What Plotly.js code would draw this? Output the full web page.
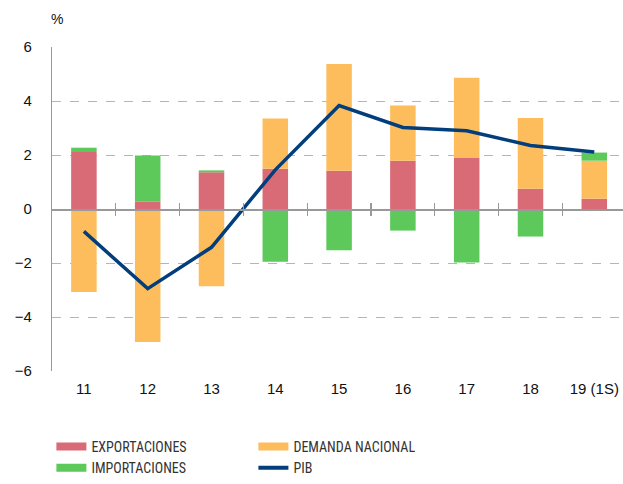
<!DOCTYPE html>
<html>
<head>
<meta charset="utf-8">
<script src="https://cdn.plot.ly/plotly-3.0.1.min.js"></script>
<style>html,body{margin:0;padding:0;background:#fff;}#chart{width:623px;height:484px;}</style>
</head>
<body>
<div id="chart"></div>
<script>
const categories = ['11', '12', '13', '14', '15', '16', '17', '18', '19 (1S)'];
const exportaciones = [2.11, 0.28, 1.36, 1.49, 1.42, 1.79, 1.89, 0.75, 0.38];
const demandaNacional = [-3.07, -4.93, -2.86, 1.86, 3.95, 2.04, 2.97, 2.62, 1.41];
const importaciones = [0.16, 1.70, 0.07, -1.95, -1.53, -0.80, -1.98, -1.02, 0.30];
const pib = [-0.83, -2.95, -1.42, 1.45, 3.83, 3.02, 2.90, 2.35, 2.11];
const boundaries = [0.5, 1.5, 2.5, 3.5, 4.5, 5.5, 6.5, 7.5];
const yTicks = [-6, -4, -2, 0, 2, 4, 6];

const cRed = '#D96B77', cOrange = '#FDBD5D', cGreen = '#5CC95A', cBlue = '#033E7C';
const xIdx = categories.map((c, i) => i);

const traces = [
  {type: 'bar', x: xIdx, y: exportaciones, name: 'EXPORTACIONES', marker: {color: cRed}, width: 0.4, showlegend: false, hoverinfo: 'y'},
  {type: 'bar', x: xIdx, y: demandaNacional, name: 'DEMANDA NACIONAL', marker: {color: cOrange}, width: 0.4, showlegend: false, hoverinfo: 'y'},
  {type: 'bar', x: xIdx, y: importaciones, name: 'IMPORTACIONES', marker: {color: cGreen}, width: 0.4, showlegend: false, hoverinfo: 'y'},
  {type: 'scatter', mode: 'lines', x: xIdx, y: pib, name: 'PIB', line: {color: cBlue, width: 3.5}, showlegend: false},
  // legend entries
  {type: 'scatter', mode: 'lines', x: [null], y: [null], name: 'EXPORTACIONES', line: {color: cRed, width: 8}},
  {type: 'scatter', mode: 'lines', x: [null], y: [null], name: 'DEMANDA NACIONAL', line: {color: cOrange, width: 8}},
  {type: 'scatter', mode: 'lines', x: [null], y: [null], name: 'IMPORTACIONES', line: {color: cGreen, width: 8}},
  {type: 'scatter', mode: 'lines', x: [null], y: [null], name: 'PIB', line: {color: cBlue, width: 4}},
  // helpers for the zero-line tick axes
  {type: 'scatter', x: [], y: [], xaxis: 'x2', showlegend: false, hoverinfo: 'skip'},
  {type: 'scatter', x: [], y: [], xaxis: 'x3', showlegend: false, hoverinfo: 'skip'}
];

const xr = [-0.5, 8.45];
const layout = {
  width: 623, height: 484,
  margin: {l: 52, r: 0, t: 47, b: 113},
  paper_bgcolor: '#fff', plot_bgcolor: '#fff',
  barmode: 'relative',
  font: {family: 'Liberation Sans, Arial, sans-serif', color: '#111', size: 15},
  xaxis: {
    range: xr, tickmode: 'array', tickvals: xIdx, ticktext: categories,
    showgrid: false, zeroline: false, showline: false, ticks: '',
    tickfont: {size: 15, color: '#111'}, ticklabelstandoff: 7, ticklabeloverflow: 'allow', fixedrange: true
  },
  xaxis2: {
    overlaying: 'x', anchor: 'free', position: 0.5, range: xr,
    tickmode: 'array', tickvals: boundaries, showticklabels: false,
    ticks: 'outside', ticklen: 5, tickcolor: '#999', tickwidth: 1.2,
    showline: true, linecolor: '#999', linewidth: 1.5, showgrid: false, zeroline: false
  },
  xaxis3: {
    overlaying: 'x', anchor: 'free', position: 0.5, range: xr,
    tickmode: 'array', tickvals: boundaries, showticklabels: false,
    ticks: 'inside', ticklen: 6, tickcolor: '#999', tickwidth: 1.2,
    showline: false, showgrid: false, zeroline: false
  },
  yaxis: {
    range: [-6, 6], tickmode: 'array', tickvals: yTicks,
    showgrid: true, gridcolor: '#B5B5B5', griddash: 'dash', gridwidth: 1,
    zeroline: false, showline: true, linecolor: '#999', linewidth: 1.2,
    ticks: '', ticklabelstandoff: 16, tickfont: {size: 15, color: '#111'}, fixedrange: true
  },
  legend: {
    orientation: 'h', x: 0.0825, xanchor: 'left', y: -0.012, yanchor: 'bottom',
    xref: 'container', yref: 'container', entrywidth: 157, entrywidthmode: 'pixels', tracegroupgap: 0,
    font: {family: 'Roboto Condensed, Liberation Sans Narrow, Liberation Sans, sans-serif', size: 14, color: '#333'},
    bgcolor: 'rgba(0,0,0,0)'
  },
  annotations: [
    {text: '%', xref: 'paper', yref: 'paper', x: 0, y: 1, xanchor: 'center', yanchor: 'middle',
     xshift: 5, yshift: 28, showarrow: false, font: {size: 14, color: '#111'}}
  ]
};

Plotly.newPlot('chart', traces, layout, {displayModeBar: false, staticPlot: true});
</script>
</body>
</html>
